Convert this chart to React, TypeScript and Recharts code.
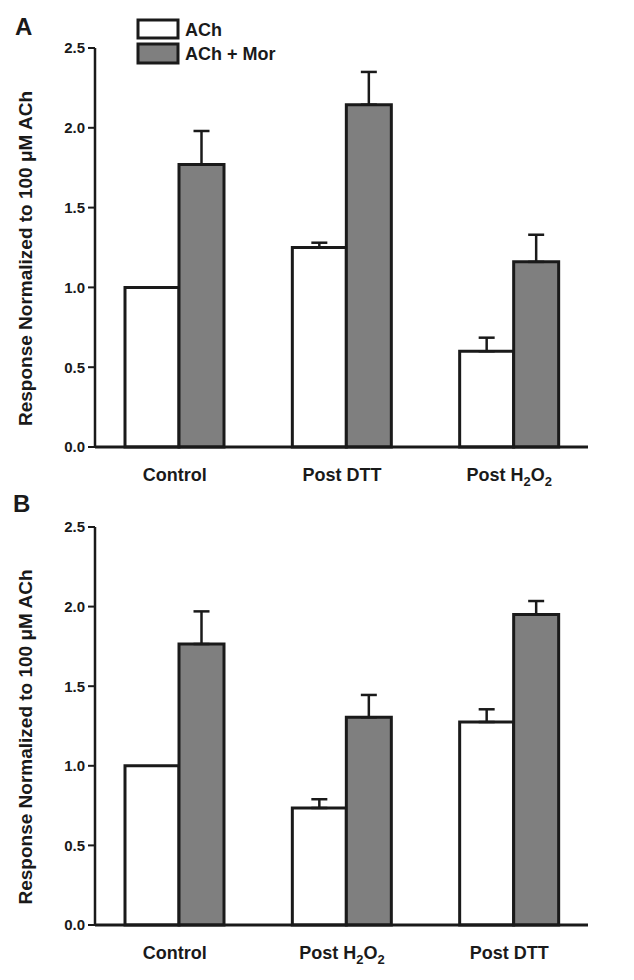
import React from 'react';
import { BarChart, Bar, XAxis, YAxis, ErrorBar, Legend, Label } from 'recharts';

// panel A
const catsA = ['Control', 'Post DTT', 'Post H2O2'];
const achA = [1.0, 1.25, 0.6];
const achErrA = [null, 0.03, 0.085];
const morA = [1.77, 2.145, 1.16];
const morErrA = [0.21, 0.205, 0.17];

// panel B
const catsB = ['Control', 'Post H2O2', 'Post DTT'];
const achB = [1.0, 0.735, 1.275];
const achErrB = [null, 0.055, 0.08];
const morB = [1.765, 1.305, 1.95];
const morErrB = [0.205, 0.14, 0.085];

const yTicks = [0, 0.5, 1.0, 1.5, 2.0, 2.5];

const FONT = '"Liberation Sans", Arial, Helvetica, sans-serif';
const INK = '#1a1a1a';
const GRAY = '#7f7f7f';

const build = (cats: string[], ach: number[], achErr: (number | null)[], mor: number[], morErr: number[]) =>
  cats.map((cat, i) => ({
    cat,
    ach: ach[i],
    achErr: achErr[i] == null ? null : [0, achErr[i]],
    mor: mor[i],
    morErr: [0, morErr[i]],
  }));

const dataA = build(catsA, achA, achErrA, morA, morErrA);
const dataB = build(catsB, achB, achErrB, morB, morErrB);

// digits in category names are chemical subscripts (H2O2)
const XTick = ({ x, y, payload }: any) => {
  const parts = String(payload.value).split(/(\d)/).filter((p) => p !== '');
  let sub = false;
  return (
    <text x={x} y={y + 34} textAnchor="middle" fontFamily={FONT} fontWeight={700} fontSize={18} fill={INK}>
      {parts.map((p, i) => {
        const isSub = /^\d$/.test(p);
        const dy = isSub && !sub ? 5 : !isSub && sub ? -5 : 0;
        sub = isSub;
        return (
          <tspan key={i} dy={dy} fontSize={isSub ? 13 : 18}>
            {p}
          </tspan>
        );
      })}
    </text>
  );
};

const YTitle = ({ viewBox }: any) => {
  const vb = viewBox || { y: 48, height: 399 };
  const cx = 32;
  const cy = vb.y + vb.height / 2 + 11;
  return (
    <text
      x={cx}
      y={cy}
      transform={`rotate(-90 ${cx} ${cy})`}
      textAnchor="middle"
      fontFamily={FONT}
      fontWeight={700}
      fontSize={19}
      fill={INK}
    >
      Response Normalized to 100 μM ACh
    </text>
  );
};

const LegendBoxes = ({ payload }: any) => (
  <svg width={170} height={50}>
    {(payload || []).map((entry: any, i: number) => (
      <g key={entry.value}>
        <rect x={3} y={3 + i * 24} width={40} height={18 + i * 1} fill={entry.color} stroke={INK} strokeWidth={3} />
        <text x={50} y={19 + i * 24} fontFamily={FONT} fontWeight={700} fontSize={18} fill={INK}>
          {entry.value}
        </text>
      </g>
    ))}
  </svg>
);

type PanelProps = {
  data: any[];
  height: number;
  top: number;
  xHeight: number;
  legend?: boolean;
};

function Panel({ data, height, top, xHeight, legend }: PanelProps) {
  return (
    <BarChart
      width={634}
      height={height}
      data={data}
      margin={{ top, right: 46, bottom: 0, left: 0 }}
      barGap={0}
    >
      <XAxis
        dataKey="cat"
        height={xHeight}
        tickLine={false}
        tickSize={0}
        tickMargin={0}
        interval={0}
        padding={{ left: -4, right: -5 }}
        axisLine={{ stroke: INK, strokeWidth: 3 }}
        tick={<XTick />}
      />
      <YAxis
        width={95}
        domain={[0, 2.5]}
        ticks={yTicks}
        tickFormatter={(v: number) => v.toFixed(1)}
        tickSize={7}
        tickMargin={3}
        axisLine={{ stroke: INK, strokeWidth: 2.5 }}
        tickLine={{ stroke: INK, strokeWidth: 2 }}
        tick={{ fontSize: 15, fontWeight: 700, fill: INK, fontFamily: FONT }}
      >
        <Label content={<YTitle />} />
      </YAxis>
      {legend && (
        <Legend
          layout="horizontal"
          verticalAlign="middle"
          align="center"
          content={<LegendBoxes />}
          wrapperStyle={{ top: 17, left: 135, width: 170, height: 50 }}
        />
      )}
      <Bar dataKey="ach" name="ACh" fill="#ffffff" stroke={INK} strokeWidth={3} barSize={54} isAnimationActive={false}>
        <ErrorBar dataKey="achErr" width={8} stroke={INK} strokeWidth={2.5} direction="y" />
      </Bar>
      <Bar dataKey="mor" name="ACh + Mor" fill={GRAY} stroke={INK} strokeWidth={3} barSize={45} isAnimationActive={false}>
        <ErrorBar dataKey="morErr" width={8} stroke={INK} strokeWidth={2.5} direction="y" />
      </Bar>
    </BarChart>
  );
}

const letterStyle: React.CSSProperties = {
  position: 'absolute',
  fontFamily: FONT,
  fontWeight: 700,
  fontSize: 24,
  lineHeight: '24px',
  color: INK,
};

export default function App() {
  return (
    <div style={{ position: 'absolute', left: 0, top: 0, width: 634, height: 980, background: '#fff' }}>
      <div style={{ position: 'absolute', left: 0, top: 0 }}>
        <Panel data={dataA} height={497} top={48} xHeight={50} legend />
      </div>
      <div style={{ position: 'absolute', left: 0, top: 497 }}>
        <Panel data={dataB} height={483} top={30} xHeight={55} />
      </div>
      <div style={{ ...letterStyle, left: 15, top: 15 }}>A</div>
      <div style={{ ...letterStyle, left: 13, top: 492 }}>B</div>
    </div>
  );
}
